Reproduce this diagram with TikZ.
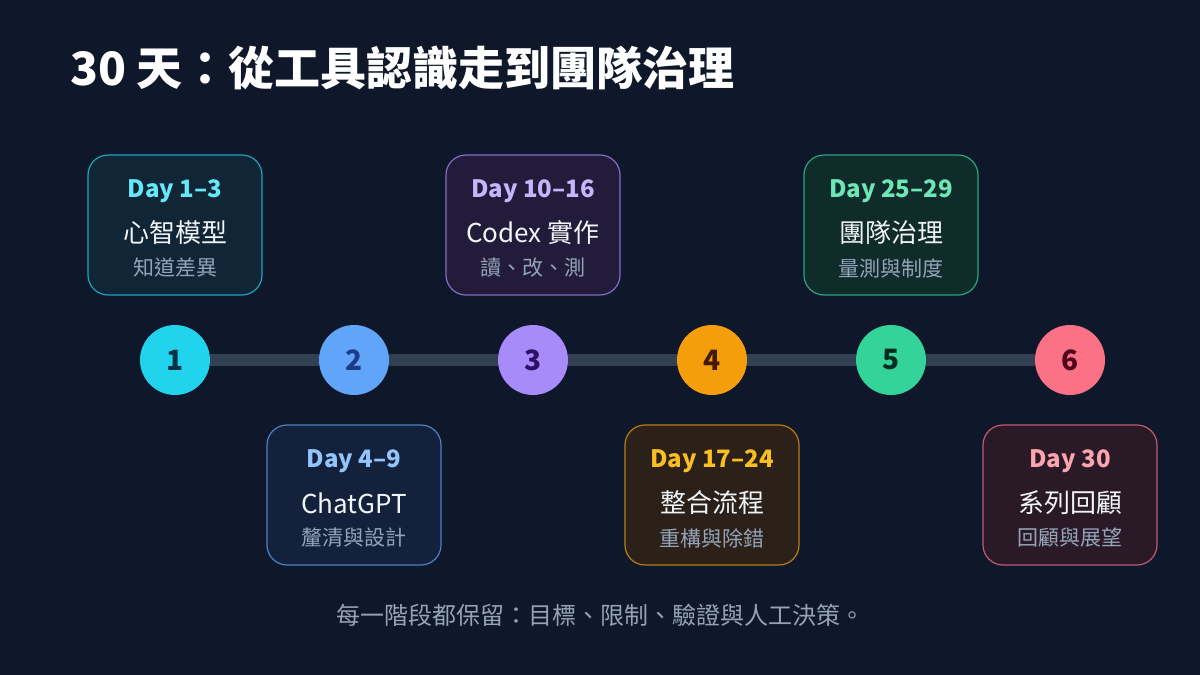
\documentclass[tikz,border=0pt]{standalone}
\usepackage{fontspec}
\setmainfont{Noto Sans CJK TC}
\usetikzlibrary{positioning}
\definecolor{bg}{HTML}{0F172A}
\definecolor{track}{HTML}{334155}
\definecolor{soft}{HTML}{94A3B8}
\definecolor{ink}{HTML}{F1F5F9}
\definecolor{cyanC}{HTML}{22D3EE}
\definecolor{cyanL}{HTML}{67E8F9}
\definecolor{cyanD}{HTML}{083344}
\definecolor{cyanF}{HTML}{102536}
\definecolor{blueC}{HTML}{60A5FA}
\definecolor{blueL}{HTML}{93C5FD}
\definecolor{blueD}{HTML}{1E3A8A}
\definecolor{blueF}{HTML}{13213D}
\definecolor{violC}{HTML}{A78BFA}
\definecolor{violL}{HTML}{C4B5FD}
\definecolor{violD}{HTML}{2E1065}
\definecolor{violF}{HTML}{231B3A}
\definecolor{ambC}{HTML}{F59E0B}
\definecolor{ambL}{HTML}{FBBF24}
\definecolor{ambD}{HTML}{451A03}
\definecolor{ambF}{HTML}{2C2118}
\definecolor{emeC}{HTML}{34D399}
\definecolor{emeL}{HTML}{6EE7B7}
\definecolor{emeD}{HTML}{022C22}
\definecolor{emeF}{HTML}{0F2B2A}
\definecolor{roseC}{HTML}{FB7185}
\definecolor{roseL}{HTML}{FDA4AF}
\definecolor{roseD}{HTML}{4C0519}
\definecolor{roseF}{HTML}{2A1A27}
\tikzset{
  stagebox/.style={draw=#1C!75!bg, fill=#1F, rounded corners=20pt, line width=1.2pt,
    minimum width=174pt, minimum height=140pt},
  daytxt/.style={font=\bfseries\fontsize{24}{28}\selectfont},
  maintxt/.style={text=ink, font=\fontsize{26}{30}\selectfont},
  subtxt/.style={text=soft, font=\fontsize{21}{25}\selectfont},
  dot/.style={circle, fill=#1, minimum size=70pt, inner sep=0pt, font=\bfseries\fontsize{28}{32}\selectfont},
  trackline/.style={draw=track, line width=12pt}
}
\begin{document}
\begin{tikzpicture}[x=1pt,y=-1pt]
\fill[bg] (0,0) rectangle (1200,675);
\node[anchor=west, inner sep=0pt, text=white, font=\bfseries\fontsize{46}{52}\selectfont] (title) at (70,68) {30 天：從工具認識走到團隊治理}; %title

% stage boxes
\node[stagebox=cyan] (b1) at (175,225) {};
\node[stagebox=blue] (b2) at (354,495) {};
\node[stagebox=viol] (b3) at (533,225) {};
\node[stagebox=amb] (b4) at (712,495) {};
\node[stagebox=eme] (b5) at (891,225) {};
\node[stagebox=rose] (b6) at (1070,495) {};

\node[daytxt, text=cyanL] (d1) at (175,191) {Day 1–3};
\node[maintxt] (m1) at (175,233) {心智模型};
\node[subtxt] (s1) at (175,268) {知道差異};
\node[daytxt, text=blueL] (d2) at (354,461) {Day 4–9};
\node[maintxt] (m2) at (354,503) {ChatGPT};
\node[subtxt] (s2) at (354,538) {釐清與設計};
\node[daytxt, text=violL] (d3) at (533,191) {Day 10–16};
\node[maintxt] (m3) at (533,233) {Codex 實作};
\node[subtxt] (s3) at (533,268) {讀、改、測};
\node[daytxt, text=ambL] (d4) at (712,461) {Day 17–24};
\node[maintxt] (m4) at (712,503) {整合流程};
\node[subtxt] (s4) at (712,538) {重構與除錯};
\node[daytxt, text=emeL] (d5) at (891,191) {Day 25–29};
\node[maintxt] (m5) at (891,233) {團隊治理};
\node[subtxt] (s5) at (891,268) {量測與制度};
\node[daytxt, text=roseL] (d6) at (1070,461) {Day 30};
\node[maintxt] (m6) at (1070,503) {系列回顧};
\node[subtxt] (s6) at (1070,538) {回顧與展望};

% timeline
\node[dot=cyanC, text=cyanD] (c1) at (175,360) {1};
\node[dot=blueC, text=blueD] (c2) at (354,360) {2};
\node[dot=violC, text=violD] (c3) at (533,360) {3};
\node[dot=ambC, text=ambD] (c4) at (712,360) {4};
\node[dot=emeC, text=emeD] (c5) at (891,360) {5};
\node[dot=roseC, text=roseD] (c6) at (1070,360) {6};
\draw[trackline] (c1) -- (c2);
\draw[trackline] (c2) -- (c3);
\draw[trackline] (c3) -- (c4);
\draw[trackline] (c4) -- (c5);
\draw[trackline] (c5) -- (c6);

\node[subtxt, font=\fontsize{24}{28}\selectfont] (note) at (600,615) {每一階段都保留：目標、限制、驗證與人工決策。}; %footer
\end{tikzpicture}
\end{document}
